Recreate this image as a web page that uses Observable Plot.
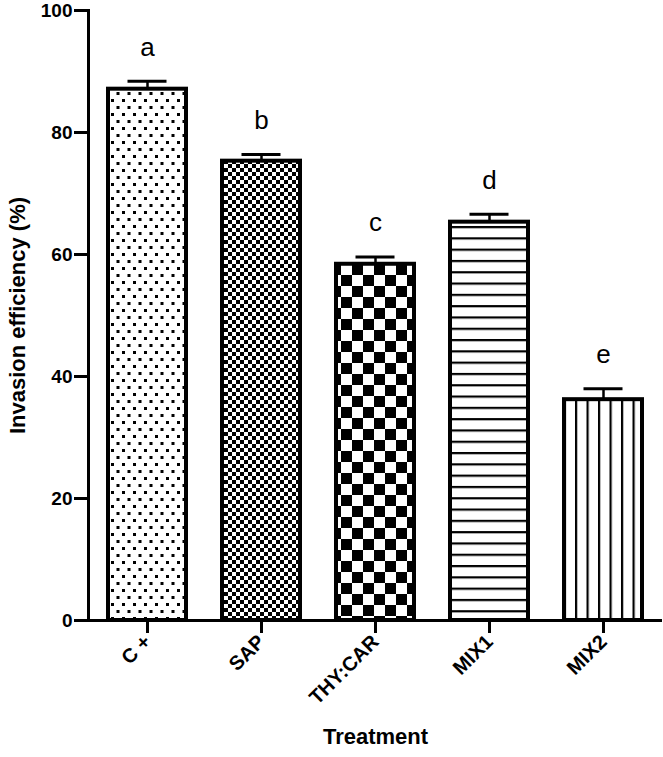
<!DOCTYPE html>
<html>
<head>
<meta charset="utf-8">
<script src="https://cdn.jsdelivr.net/npm/d3@7"></script>
<script src="https://cdn.jsdelivr.net/npm/@observablehq/plot@0.6"></script>
<style>
  html, body { margin: 0; padding: 0; background: white; }
</style>
</head>
<body>
<div id="chart"></div>
<script>
const treatments = ["C +", "SAP", "THY:CAR", "MIX1", "MIX2"];
const means = [87.1, 75.3, 58.4, 65.3, 36.2];
const errors = [1.3, 1.1, 1.2, 1.3, 1.8];
const letters = ["a", "b", "c", "d", "e"];
const yTicks = [0, 20, 40, 60, 80, 100];

const data = treatments.map((t, i) => ({t, v: means[i], e: errors[i], l: letters[i], i}));

const font = "'Liberation Sans', Arial, Helvetica, sans-serif";

const chart = Plot.plot({
  width: 663,
  height: 757,
  marginLeft: 88,
  marginRight: 1,
  marginTop: 10,
  marginBottom: 137,
  style: {fontFamily: font, background: "white", color: "black"},
  x: {domain: treatments, paddingInner: 0.32, paddingOuter: 0.16, label: null},
  y: {domain: [0, 100], label: null},
  color: {type: "identity"},
  marks: [
    Plot.ruleX(data, {x: "t", y1: "v", y2: d => d.v + d.e, stroke: "black", strokeWidth: 2.5}),
    Plot.tickY(data, {x: "t", y: d => d.v + d.e, stroke: "black", strokeWidth: 3, insetLeft: 19.5, insetRight: 19.5}),
    Plot.barY(data, {x: "t", y: "v", fill: d => `url(#pat${d.i})`, stroke: "black", strokeWidth: 4}),
    Plot.text(data, {x: "t", y: d => d.v + d.e, text: "l", dy: -34, fontSize: 26, fill: "black"}),
    Plot.axisY({ticks: yTicks, tickSize: 14, tickPadding: 2, strokeWidth: 3, fontSize: 19, fontWeight: "bold", label: null}),
    Plot.axisX({tickSize: 13, tickPadding: 5, strokeWidth: 3, tickRotate: -45, fontSize: 20, fontWeight: "bold", label: null}),
    Plot.ruleY([0], {stroke: "black", strokeWidth: 3}),
    Plot.frame({anchor: "left", stroke: "black", strokeWidth: 3}),
    Plot.text(["Treatment"], {frameAnchor: "bottom", dy: 123, fontSize: 22, fontWeight: "bold", fill: "black"}),
    Plot.text(["Invasion efficiency (%)"], {frameAnchor: "left", textAnchor: "middle", dx: -71, rotate: -90, fontSize: 22, fontWeight: "bold", fill: "black"})
  ]
});

// pattern definitions
const ns = "http://www.w3.org/2000/svg";
const defs = document.createElementNS(ns, "defs");
function pattern(id, w, h, shapes) {
  const p = document.createElementNS(ns, "pattern");
  p.setAttribute("id", id);
  p.setAttribute("patternUnits", "userSpaceOnUse");
  p.setAttribute("width", w);
  p.setAttribute("height", h);
  const bg = document.createElementNS(ns, "rect");
  bg.setAttribute("width", w); bg.setAttribute("height", h); bg.setAttribute("fill", "white");
  p.appendChild(bg);
  shapes.forEach(s => {
    const r = document.createElementNS(ns, "rect");
    r.setAttribute("x", s[0]); r.setAttribute("y", s[1]);
    r.setAttribute("width", s[2]); r.setAttribute("height", s[3]);
    r.setAttribute("fill", "black");
    p.appendChild(r);
  });
  defs.appendChild(p);
}
pattern("pat0", 11, 14, [[1, 1, 3, 3], [6.5, 8, 3, 3]]);
pattern("pat1", 8, 8, [[0, 0, 4, 4], [4, 4, 4, 4]]);
pattern("pat2", 22, 22, [[0, 0, 11, 11], [11, 11, 11, 11]]);
pattern("pat3", 10, 11.3, [[0, 0, 10, 2.2]]);
pattern("pat4", 11.5, 10, [[0, 0, 2.2, 10]]);
chart.insertBefore(defs, chart.firstChild);

document.getElementById("chart").appendChild(chart);
</script>
</body>
</html>
